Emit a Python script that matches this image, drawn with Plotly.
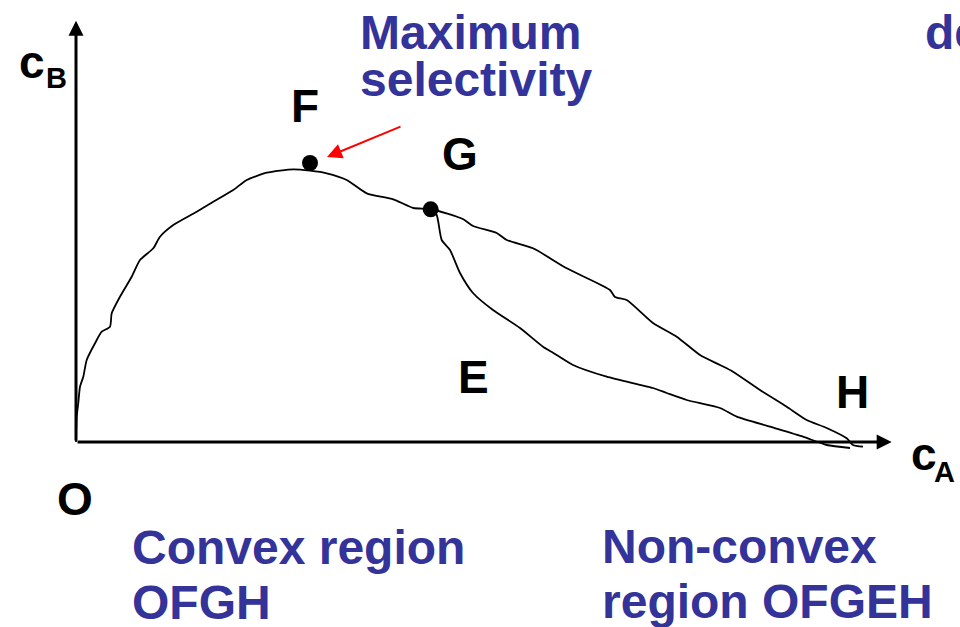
import plotly.graph_objects as go

# ---- data (cA, cB) in arbitrary concentration units ----
upper_cA = [0.0, 0.007, 0.023, 0.04, 0.073, 0.107, 0.19, 0.257, 0.34, 0.357, 0.44, 0.557,
            0.64, 0.773, 0.84, 0.973, 1.207, 1.373, 1.573, 1.707, 1.907, 2.173, 2.34, 2.507,
            2.707, 2.907, 3.173, 3.373, 3.547, 3.873, 3.97, 4.207, 4.307, 4.57, 4.907, 5.34,
            5.39, 5.507, 5.77, 6.007, 6.24, 6.44, 6.57, 6.84, 7.107, 7.307, 7.507, 7.707,
            7.77, 7.87]
upper_cB = [0.0, 0.253, 0.39, 0.553, 0.653, 0.82, 0.987, 1.103, 1.153, 1.287, 1.453, 1.653,
            1.82, 1.937, 2.053, 2.17, 2.303, 2.403, 2.52, 2.62, 2.693, 2.727, 2.713, 2.687,
            2.62, 2.487, 2.427, 2.34, 2.33, 2.227, 2.16, 2.09, 2.02, 1.937, 1.737, 1.52,
            1.45, 1.42, 1.19, 1.053, 0.87, 0.77, 0.703, 0.52, 0.353, 0.22, 0.14, 0.037,
            -0.03, -0.047]

lower_cA = [3.55, 3.607, 3.657, 3.74, 3.84, 3.97, 4.17, 4.44, 4.67, 4.77, 4.97, 5.307,
            5.77, 5.907, 6.107, 6.44, 6.607, 6.94, 7.27, 7.507, 7.74]
lower_cB = [2.33, 2.27, 2.02, 1.92, 1.69, 1.49, 1.32, 1.14, 0.953, 0.893, 0.77, 0.653,
            0.54, 0.49, 0.42, 0.34, 0.253, 0.153, 0.053, -0.03, -0.06]

point_names = ["F", "G"]
point_cA = [2.34, 3.547]
point_cB = [2.79, 2.327]

axis_cA_max = 8.157
axis_cB_max = 4.213

BLUE = "#333399"
FONT = "Liberation Sans, Arial, sans-serif"
W, H = 960, 627

fig = go.Figure()
fig.add_trace(go.Scatter(x=upper_cA, y=upper_cB, mode="lines",
                         line=dict(color="black", width=1.8, shape="spline", smoothing=0.6),
                         hoverinfo="skip"))
fig.add_trace(go.Scatter(x=lower_cA, y=lower_cB, mode="lines",
                         line=dict(color="black", width=1.8, shape="spline", smoothing=0.6),
                         hoverinfo="skip"))
fig.add_trace(go.Scatter(x=point_cA, y=point_cB, mode="markers",
                         marker=dict(color="black", size=16), hoverinfo="skip"))

ann = []
# axes with arrowheads
ann.append(dict(x=axis_cA_max, y=0, ax=0, ay=0, xref="x", yref="y", axref="x", ayref="y",
                text="", showarrow=True, arrowhead=2, arrowsize=1, arrowwidth=3,
                arrowcolor="black", standoff=0, startstandoff=0))
ann.append(dict(x=0, y=axis_cB_max, ax=0, ay=0, xref="x", yref="y", axref="x", ayref="y",
                text="", showarrow=True, arrowhead=2, arrowsize=1, arrowwidth=3,
                arrowcolor="black", standoff=0, startstandoff=0))
# red arrow to F (tail offset given in pixels)
ann.append(dict(x=327 / W, y=1 - 157 / H, ax=75, ay=-31,
                xref="paper", yref="paper", axref="pixel", ayref="pixel",
                text="", showarrow=True, arrowhead=2, arrowsize=1.5, arrowwidth=2,
                arrowcolor="#ff0000", standoff=0))


def label(txt, px, py, size=48, color="black", anchor="center"):
    ann.append(dict(x=px / W, y=1 - py / H, xref="paper", yref="paper", text=txt,
                    showarrow=False, xanchor=anchor, yanchor="middle",
                    font=dict(family=FONT, size=size, color=color, weight="bold")))


label("<b>Maximum</b>", 358, 32, color=BLUE, anchor="left")
label("<b>selectivity</b>", 358, 79, color=BLUE, anchor="left")
label("<b>Convex region</b>", 130, 547, color=BLUE, anchor="left")
label("<b>OFGH</b>", 130, 602, color=BLUE, anchor="left")
label("<b>Non-convex</b>", 600, 546, color=BLUE, anchor="left")
label("<b>region OFGEH</b>", 600, 601, color=BLUE, anchor="left")
label("<b>de</b>", 923, 32, color=BLUE, anchor="left")

label("<b>F</b>", 305, 106, size=46)
label("<b>G</b>", 460, 154, size=46)
label("<b>E</b>", 473, 377, size=46)
label("<b>H</b>", 852, 392, size=46)
label("<b>O</b>", 75, 499, size=46)
label("<b>c</b>", 17, 62, size=46, anchor="left")
label("<b>B</b>", 44, 78, size=29, anchor="left")
label("<b>c</b>", 909, 454, size=46, anchor="left")
label("<b>A</b>", 932, 472, size=29, anchor="left")

fig.update_layout(
    width=W, height=H, margin=dict(l=0, r=0, t=0, b=0),
    paper_bgcolor="white", plot_bgcolor="white", showlegend=False,
    xaxis=dict(range=[-0.76, 8.84], visible=False, fixedrange=True),
    yaxis=dict(range=[-1.85, 4.42], visible=False, fixedrange=True),
    annotations=ann,
)

fig.write_html("out.html", config={"displayModeBar": False},
               post_script="document.body.style.margin='0';document.body.style.overflow='hidden';")
